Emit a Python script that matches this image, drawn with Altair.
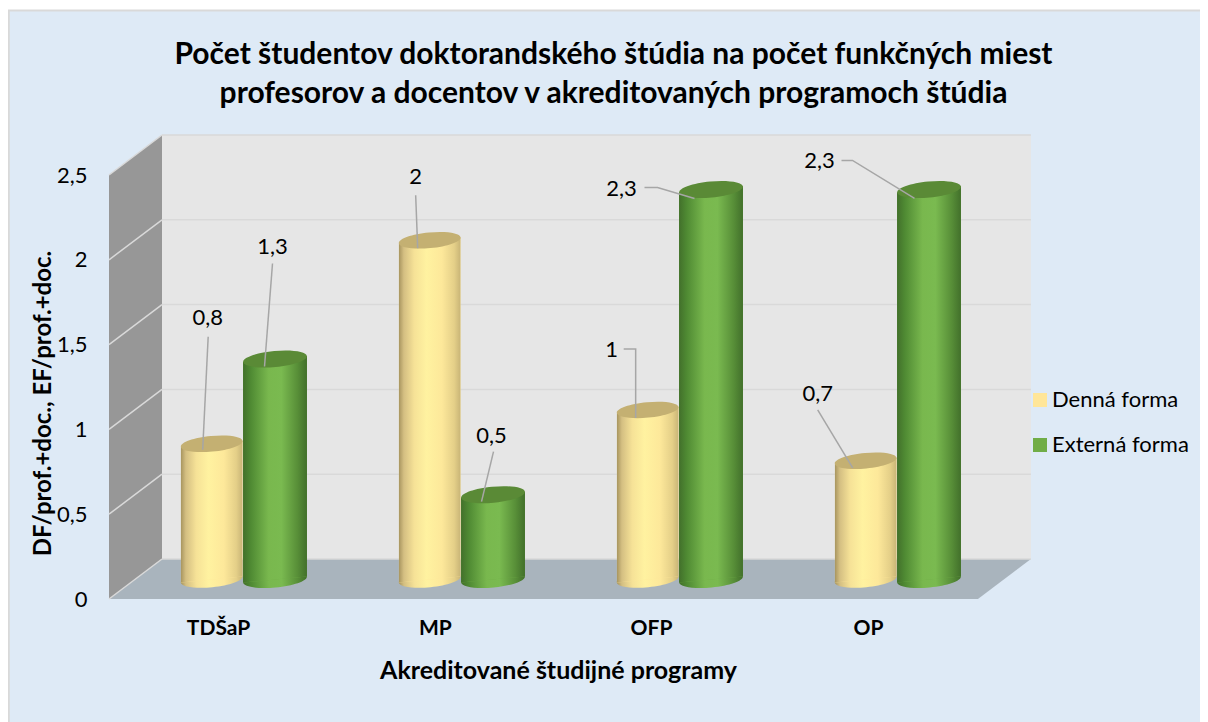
import altair as alt
import pandas as pd

# ---- data
categories = ["TDŠaP", "MP", "OFP", "OP"]
series_names = ["Denná forma", "Externá forma"]
denna = [0.8, 2.0, 1.0, 0.7]
externa = [1.3, 0.5, 2.3, 2.3]
y_ticks = [0, 0.5, 1, 1.5, 2, 2.5]
x_tick_pos = [0.5, 1.495, 2.486, 3.482]

# label offset from the top of each cylinder, px: (dx, dy)
label_off = {
    0: [(-4, -126), (-14, -63), (-36, -60), (-48, -67)],
    1: [(-2.5, -112.5), (-1.5, -59), (-89.5, 0), (-109.5, -28)],
}
# leader polyline offsets from the top of each cylinder, px
leader_off = {
    0: [[(-9, 6), (-3.5, -107)], [(-12, 8), (-14, -45)],
        [(-12, 8), (-12, -61), (-24, -61)], [(-13, 7), (-48, -51)]],
    1: [[(-10.5, 7.5), (-2.5, -95.5)], [(-11.5, 7), (0.5, -43)],
        [(-16.5, 9), (-53.5, -2), (-66.5, -2)], [(-14.5, 9), (-76.5, -29), (-87.5, -29)]],
}

# ---- geometry of the fake 3D box, in data units
PX_X, PX_Y = 218.0, 169.6      # pixels per unit
DEPTH_X, DEPTH_Y = 0.2431, 0.2358
FLOOR_END = 3.986
BASE = 0.115                   # cylinders stand this far up the floor
TILT = 0.018                   # tilt of the cylinder ends
bar_edges = {0: (0.330, 0.612), 1: (0.615, 0.908)}

TOP = y_ticks[-1]
PLOT_W, PLOT_H = 872, 424
x_scale = alt.Scale(domain=[0, 4], nice=False, zero=False)
y_scale = alt.Scale(domain=[0, TOP], nice=False, zero=False)
FONT = "Lato"
AX_SIZE = 22
TICK_BOLD = 21

x_axis = alt.Axis(values=x_tick_pos, title="Akreditované študijné programy",
                  labelExpr="['TDŠaP','MP','OFP','OP'][floor(datum.value)]",
                  grid=False, ticks=False, domain=False, labelFont=FONT, labelFontSize=TICK_BOLD,
                  labelFontWeight="bold", labelColor="#000000", labelPadding=18,
                  titleFont=FONT, titleFontSize=25, titleFontWeight="bold", titleColor="#000000",
                  titleX=449, titleY=59, titleAnchor="middle", zindex=1)
y_axis = alt.Axis(values=y_ticks, title="DF/prof.+doc., EF/prof.+doc.",
                  labelExpr="replace(format(datum.value,'.1~f'),'.',',')",
                  grid=False, ticks=False, domain=False, labelFont=FONT, labelFontSize=AX_SIZE,
                  labelColor="#000000", labelPadding=22,
                  titleFont=FONT, titleFontSize=24, titleFontWeight="bold", titleColor="#000000",
                  titleX=-54, titleY=228, titleAnchor="middle", zindex=1)


def X(f="x", **k):
    return alt.X(f, type="quantitative", scale=x_scale, axis=x_axis, **k)


def Y(f="y", **k):
    return alt.Y(f, type="quantitative", scale=y_scale, axis=y_axis, **k)


def grad(stops):
    return alt.LinearGradient(
        gradient="linear", x1=0, x2=1, y1=0, y2=0,
        stops=[alt.GradientStop(offset=o, color=c) for o, c in stops],
    )


yellow_grad = grad([(0, "#a8955f"), (0.08, "#d4bf82"), (0.25, "#f6e297"), (0.45, "#fff2a0"),
                    (0.7, "#fde89a"), (0.9, "#e4cf88"), (1, "#c9b577")])
green_grad = grad([(0, "#42702b"), (0.12, "#4f8a33"), (0.4, "#79b84e"), (0.6, "#7aba50"),
                   (0.85, "#588f38"), (1, "#42702b")])
grads = {0: yellow_grad, 1: green_grad}
cap_col = {0: "#c4b072", 1: "#5a8a36"}
ser_vals = {0: denna, 1: externa}

# ---- tables
body, caps, labels, leaders = {}, {}, [], []
for s in (0, 1):
    rows, crow = [], []
    for i, v in enumerate(ser_vals[s]):
        x0, x1 = bar_edges[s]
        xl, xr = i + x0, i + x1
        rows.append(dict(x=xl, y=BASE - TILT, y2=BASE + v - TILT, cat=categories[i], series=series_names[s]))
        rows.append(dict(x=xr, y=BASE + TILT, y2=BASE + v + TILT, cat=categories[i], series=series_names[s]))
        xc, yc = (xl + xr) / 2, BASE + v
        crow.append(dict(x=xc, y=yc, y0=BASE, cat=categories[i]))
        dx, dy = label_off[s][i]
        labels.append(dict(x=xc + dx / PX_X, y=yc - dy / PX_Y, t=f"{v:g}".replace(".", ",")))
        for k, (ax, ay) in enumerate(leader_off[s][i]):
            leaders.append(dict(x=xc + ax / PX_X, y=yc - ay / PX_Y, k=k, id=f"{s}-{i}"))
    body[s] = pd.DataFrame(rows)
    caps[s] = pd.DataFrame(crow)
labels = pd.DataFrame(labels)
leaders = pd.DataFrame(leaders)

# ---- chart background panel (starts below the page top, bleeds off right/bottom)
panel = alt.Chart(pd.DataFrame([dict(x=-0.4597, x2=5.1, y=-0.74, y2=3.47)])).mark_rect(
    fill="#deeaf6", stroke="#d9d9d9", strokeWidth=2
).encode(x=X(), x2="x2:Q", y=Y(), y2="y2:Q")

# ---- box walls
side = alt.Chart(pd.DataFrame([dict(x=0, y=0, y2=TOP), dict(x=DEPTH_X, y=DEPTH_Y, y2=TOP + DEPTH_Y)])).mark_area(
    color="#979797", opacity=1
).encode(x=X(), y=Y(), y2="y2:Q")
back = alt.Chart(pd.DataFrame([dict(x=DEPTH_X, x2=FLOOR_END + DEPTH_X, y=DEPTH_Y, y2=TOP + DEPTH_Y)])).mark_rect(
    color="#e6e6e6", opacity=1
).encode(x=X(), x2="x2:Q", y=Y(), y2="y2:Q")
floor = alt.Chart(pd.DataFrame([dict(x=0, x2=FLOOR_END, y=0), dict(x=DEPTH_X, x2=FLOOR_END + DEPTH_X, y=DEPTH_Y)])).mark_area(
    color="#a9b4bd", opacity=1, orient="horizontal"
).encode(x=X(), x2="x2:Q", y=Y())
grid_back = alt.Chart(pd.DataFrame([dict(x=DEPTH_X, x2=FLOOR_END + DEPTH_X, y=t + DEPTH_Y) for t in y_ticks])).mark_rule(
    color="#d9d9d9", strokeWidth=1.5
).encode(x=X(), x2="x2:Q", y=Y())
grid_side = alt.Chart(pd.DataFrame(
    [dict(x=0, y=t, t=t) for t in y_ticks] + [dict(x=DEPTH_X, y=t + DEPTH_Y, t=t) for t in y_ticks]
)).mark_line(color="#d9d9d9", strokeWidth=1.5).encode(x=X(), y=Y(), detail="t:N")

# ---- cylinders
ELLIPSE = "M-1,0A1,0.25,0,1,1,1,0A1,0.25,0,1,1,-1,0Z"
color_enc = alt.Color(
    "series:N",
    scale=alt.Scale(domain=series_names, range=["#ffe699", "#70ad47"]),
    legend=alt.Legend(title=None, orient="none", legendX=920, legendY=214, symbolType="square", symbolSize=196,
                      symbolOpacity=1, symbolStrokeWidth=0, labelFont=FONT, labelFontSize=AX_SIZE, labelColor="#000000",
                      rowPadding=23, labelOffset=1, padding=0),
)


def cylinder(s, size):
    bottom = alt.Chart(caps[s]).mark_point(
        shape=ELLIPSE, size=size, filled=True, opacity=1, angle=354.6, fill=grads[s], strokeWidth=0
    ).encode(x=X(), y=Y("y0"))
    base = alt.Chart(body[s]).mark_area(opacity=1).encode(x=X(), y=Y(), y2="y2:Q", detail="cat:N", color=color_enc)
    shade = alt.Chart(body[s]).mark_area(opacity=1, fill=grads[s]).encode(x=X(), y=Y(), y2="y2:Q", detail="cat:N")
    cap = alt.Chart(caps[s]).mark_point(
        shape=ELLIPSE, size=size, filled=True, opacity=1, angle=354.6, fill=cap_col[s], strokeWidth=0
    ).encode(x=X(), y=Y())
    return [bottom, base, shade, cap]


leader_lines = alt.Chart(leaders).mark_line(color="#a6a6a6", strokeWidth=1.5).encode(
    x=X(), y=Y(), detail="id:N", order="k:Q"
)
label_marks = alt.Chart(labels).mark_text(font=FONT, fontSize=AX_SIZE, color="#000000", align="center", baseline="middle").encode(
    x=X(), y=Y(), text="t:N"
)

chart = alt.layer(
    panel, side, back, floor, grid_back, grid_side,
    *cylinder(0, 3844), *cylinder(1, 4096),
    leader_lines, label_marks,
).properties(
    width=PLOT_W, height=PLOT_H,
    background="#ffffff",
    padding=dict(left=101, top=167, right=219, bottom=123),
    autosize=alt.AutoSizeParams(type="none"),
    title=alt.TitleParams(
        text=["Počet študentov doktorandského štúdia na počet  funkčných miest",
              "profesorov a docentov v akreditovaných programoch štúdia"],
        font=FONT, fontSize=30, fontWeight="bold", color="#000000", anchor="middle", lineHeight=39,
        dx=68.5, dy=100, offset=0,
    ),
).configure_view(stroke=None)

chart.save("out.html", embed_options={"renderer": "svg", "actions": False})
